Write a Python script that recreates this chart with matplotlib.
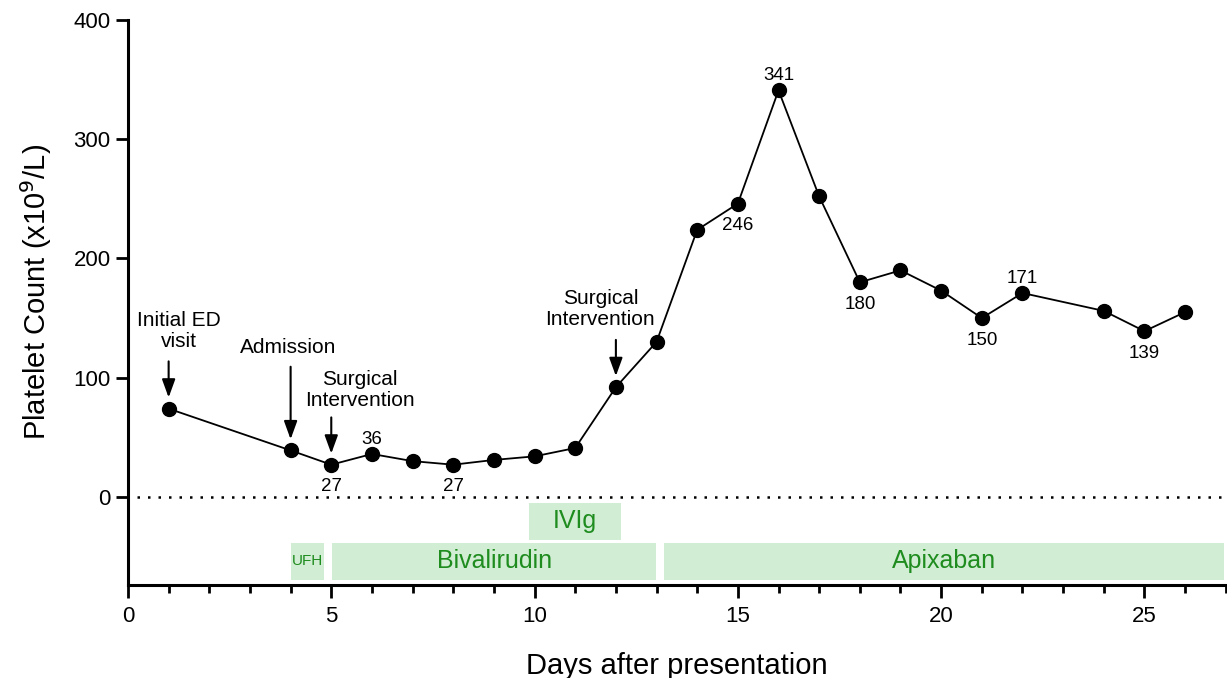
import matplotlib.pyplot as plt
from matplotlib.ticker import MultipleLocator

plt.rcParams['font.family'] = ['Liberation Sans', 'DejaVu Sans']

days = [1, 4, 5, 6, 7, 8, 9, 10, 11, 12, 13, 14, 15, 16, 17, 18, 19, 20, 21, 22, 24, 25, 26]
platelets = [74, 39, 27, 36, 30, 27, 31, 34, 41, 92, 130, 224, 246, 341, 252, 180, 190, 173, 150, 171, 156, 139, 155]

# value labels: (day, value, above?)
labelled = [(5, 27, False), (6, 36, True), (8, 27, False), (15, 246, False), (16, 341, True),
            (18, 180, False), (21, 150, False), (22, 171, True), (25, 139, False)]

# treatments: (name, start, end, row)
treatments = [('UFH', 4.0, 4.83, 0), ('Bivalirudin', 5.03, 12.98, 0),
              ('Apixaban', 13.18, 26.95, 0), ('IVIg', 9.87, 12.13, 1)]

# events: (text, day, value, text x, text y, arrow top)
events = [('Initial ED\nvisit', 1, 74, 1.25, 122, 116),
          ('Admission', 4, 39, 3.95, 117, 111.5),
          ('Surgical\nIntervention', 5, 27, 5.7, 73, 69),
          ('Surgical\nIntervention', 12, 92, 11.62, 141, 134)]

fig = plt.figure(figsize=(12.27, 6.78), dpi=100)
ax = fig.add_axes([0.1043, 0.137, 0.8947, 0.8335])

ax.hlines(0, 0.22, 27, colors='black', linestyles=(0, (1, 3.2)), linewidth=1.8)
ax.plot(days, platelets, '-o', color='black', markersize=10, linewidth=1.3, zorder=3)

for d, v, above in labelled:
    if above:
        ax.text(d, v + 5, str(v), ha='center', va='bottom', fontsize=13.5)
    else:
        ax.text(d, v - 11.5, str(v), ha='center', va='top', fontsize=13.5)

for name, s, e, row in treatments:
    y0 = -69.5 if row == 0 else -36
    ax.add_patch(plt.Rectangle((s, y0), e - s, 31, facecolor='#d1edd3', edgecolor='none', zorder=1))
    fs = 11 if name == 'UFH' else 18
    ax.text((s + e) / 2, y0 + 15.5, name, ha='center', va='center', fontsize=fs, color='#1e8c1e', zorder=2)

for txt, d, v, tx, ty, top in events:
    ax.text(tx, ty, txt, ha='center', va='bottom', fontsize=15, linespacing=1.15)
    ax.annotate('', xy=(d, v + 7), xytext=(d, top),
                arrowprops=dict(arrowstyle='-|>,head_length=1.1,head_width=0.4', color='black', lw=1.5))

ax.set_xlim(0, 27)
ax.set_ylim(-74, 400)
ax.set_yticks([0, 100, 200, 300, 400])
ax.xaxis.set_major_locator(MultipleLocator(5))
ax.xaxis.set_minor_locator(MultipleLocator(1))
for s in ['top', 'right']:
    ax.spines[s].set_visible(False)
for s in ['left', 'bottom']:
    ax.spines[s].set_linewidth(2.2)
ax.tick_params(which='major', length=9, width=2, labelsize=16, direction='out')
ax.tick_params(axis='x', which='major', pad=6)
ax.tick_params(which='minor', length=6, width=2)
ax.set_xlabel('Days after presentation', fontsize=21, labelpad=18)
ax.set_ylabel('Platelet Count (x10$^9$/L)', fontsize=21)
ax.yaxis.set_label_coords(-0.0676, 0.518)

fig.savefig('out.png', dpi=100)
